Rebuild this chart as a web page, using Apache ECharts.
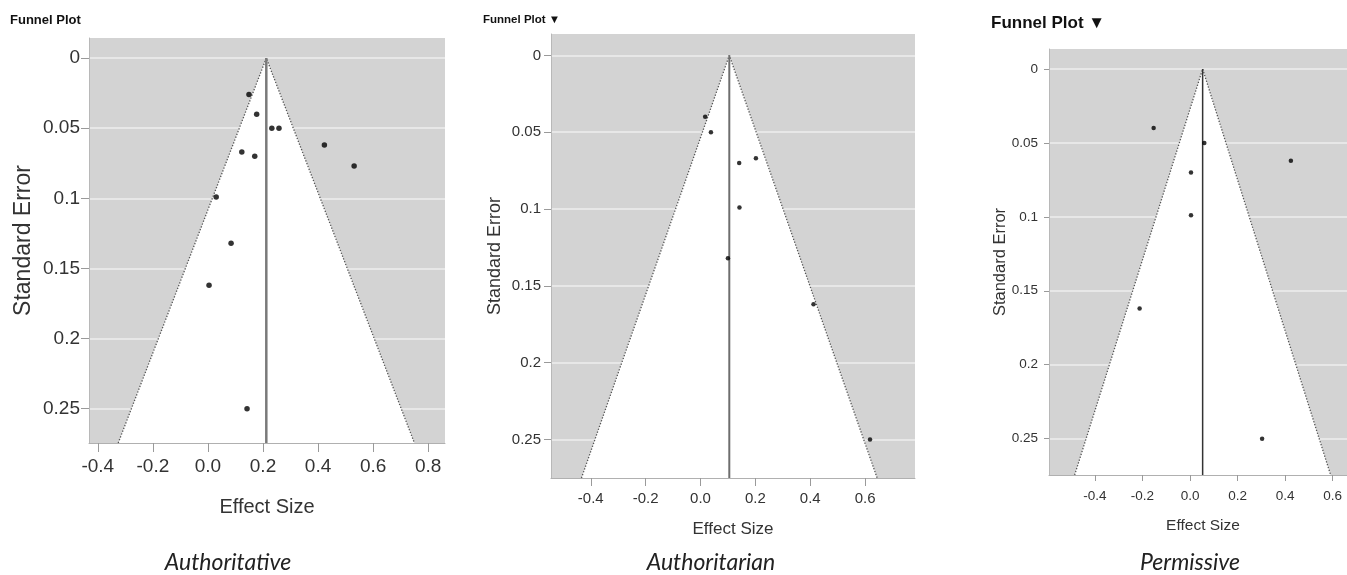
<!DOCTYPE html>
<html>
<head>
<meta charset="utf-8">
<title>Funnel Plots</title>
<script src="https://cdn.jsdelivr.net/npm/echarts@6/dist/echarts.min.js"></script>
<style>
html, body { margin: 0; padding: 0; background: #fff; }
#funnelCharts { width: 1347px; height: 575px; }
</style>
</head>
<body>
<div id="funnelCharts"></div>
<script>
//////////// 데이터 ////////////
// Authoritative
var authoritativeEffect = [0.149, 0.177, 0.232, 0.258, 0.423, 0.531, 0.123, 0.170, 0.030, 0.084, 0.004, 0.142];
var authoritativeSE     = [0.026, 0.040, 0.050, 0.050, 0.062, 0.077, 0.067, 0.070, 0.099, 0.132, 0.162, 0.250];
var authoritativeMean   = 0.212;

// Authoritarian
var authoritarianEffect = [0.017, 0.038, 0.141, 0.202, 0.142, 0.100, 0.412, 0.618];
var authoritarianSE     = [0.040, 0.050, 0.070, 0.067, 0.099, 0.132, 0.162, 0.250];
var authoritarianMean   = 0.105;

// Permissive
var permissiveEffect = [-0.153, 0.060, 0.004, 0.004, 0.424, -0.212, 0.303];
var permissiveSE     = [0.040, 0.050, 0.070, 0.099, 0.062, 0.162, 0.250];
var permissiveMean   = 0.053;

// tick labels
var seTicks = [0, 0.05, 0.1, 0.15, 0.2, 0.25];
var effectTicksWide = [-0.4, -0.2, 0.0, 0.2, 0.4, 0.6, 0.8];
var effectTicks = [-0.4, -0.2, 0.0, 0.2, 0.4, 0.6];

var captions = ['Authoritative', 'Authoritarian', 'Permissive'];

//////////// 패널 설정 ////////////
var panels = [
	{
		effect: authoritativeEffect, se: authoritativeSE, mean: authoritativeMean, xTicks: effectTicksWide,
		grid: {left: 89, top: 38, width: 356, height: 405},
		xMin: -0.432, xMax: 0.861, yMin: -0.0143, yMax: 0.2745,
		tickSize: 19, xNameSize: 20, yNameSize: 23,
		xNameGap: 54, yNameGap: 54, xMargin: 14, yMargin: 9, tickLen: 9,
		dot: 5.5, meanColor: '#7a7a7a', meanWidth: 2.5,
		title: 'Funnel Plot', titleSize: 13, titleLeft: 10, titleTop: 14,
		captionX: 228
	},
	{
		effect: authoritarianEffect, se: authoritarianSE, mean: authoritarianMean, xTicks: effectTicks,
		grid: {left: 551, top: 34, width: 364, height: 444},
		xMin: -0.545, xMax: 0.782, yMin: -0.0139, yMax: 0.275,
		tickSize: 15, xNameSize: 17, yNameSize: 18,
		xNameGap: 43, yNameGap: 47, xMargin: 13, yMargin: 10, tickLen: 8,
		dot: 4.5, meanColor: '#6e6e6e', meanWidth: 2,
		title: 'Funnel Plot \u25BC', titleSize: 11.5, titleLeft: 483, titleTop: 14,
		captionX: 711
	},
	{
		effect: permissiveEffect, se: permissiveSE, mean: permissiveMean, xTicks: effectTicks,
		grid: {left: 1049, top: 49, width: 308, height: 426},
		xMin: -0.593, xMax: 0.702, yMin: -0.0135, yMax: 0.2746,
		tickSize: 13.5, xNameSize: 15.5, yNameSize: 16.5,
		xNameGap: 43, yNameGap: 40, xMargin: 14, yMargin: 11, tickLen: 6,
		dot: 4.5, meanColor: '#333333', meanWidth: 1.5,
		title: 'Funnel Plot \u25BC', titleSize: 17, titleLeft: 991, titleTop: 15,
		captionX: 1190
	}
];

//////////// 차트 구성 ////////////
var chart = echarts.init(document.getElementById('funnelCharts'), null, {renderer: 'canvas'});

var option = {
	animation: false,
	backgroundColor: '#ffffff',
	textStyle: {fontFamily: 'Liberation Sans'},
	title: [],
	grid: [],
	xAxis: [],
	yAxis: [],
	series: [],
	graphic: []
};

panels.forEach(function(p, i) {
	buildPanel(p, i);
});

chart.setOption(option);

// 패널 하나 구성
function buildPanel(p, i) {
	// pseudo 95% limits at the bottom of the axis
	var seMax = p.yMax;
	var lo = p.mean - 1.96 * seMax;
	var hi = p.mean + 1.96 * seMax;

	option.title.push({
		text: p.title,
		left: p.titleLeft,
		top: p.titleTop,
		padding: 0,
		textStyle: {fontFamily: 'Liberation Sans', fontSize: p.titleSize, fontWeight: 'bold', color: '#111'}
	});

	option.grid.push({
		left: p.grid.left, top: p.grid.top, width: p.grid.width, height: p.grid.height,
		show: true, backgroundColor: '#d3d3d3', borderWidth: 0,
		outerBoundsMode: 'none', containLabel: false
	});

	option.xAxis.push({
		type: 'value', gridIndex: i,
		min: p.xMin, max: p.xMax,
		name: 'Effect Size', nameLocation: 'middle', nameGap: p.xNameGap, nameMoveOverlap: false,
		nameTextStyle: {fontFamily: 'Liberation Sans', fontSize: p.xNameSize, color: '#333'},
		axisLine: {show: true, onZero: false, lineStyle: {color: '#b0b0b0', width: 1}},
		axisTick: {show: true, length: p.tickLen, customValues: p.xTicks, lineStyle: {color: '#9a9a9a'}},
		axisLabel: {
			customValues: p.xTicks, margin: p.xMargin, color: '#333',
			fontFamily: 'Liberation Sans', fontSize: p.tickSize,
			formatter: function(v) { return v.toFixed(1); }
		},
		splitLine: {show: false}
	});

	option.yAxis.push({
		type: 'value', gridIndex: i, inverse: true,
		min: p.yMin, max: p.yMax,
		name: 'Standard Error', nameLocation: 'middle', nameGap: p.yNameGap, nameRotate: 90, nameMoveOverlap: false,
		nameTextStyle: {fontFamily: 'Liberation Sans', fontSize: p.yNameSize, color: '#333'},
		axisLine: {show: true, onZero: false, lineStyle: {color: '#b8b8b8', width: 1}},
		axisTick: {show: true, length: p.tickLen - 1, customValues: seTicks, lineStyle: {color: '#9a9a9a'}},
		axisLabel: {
			customValues: seTicks, margin: p.yMargin, color: '#333',
			fontFamily: 'Liberation Sans', fontSize: p.tickSize,
			formatter: function(v) { return String(v); }
		},
		splitLine: {show: true, lineStyle: {color: '#eeeeee', width: 1.5}}
	});

	// 흰색 깔때기 영역
	option.series.push({
		type: 'custom', xAxisIndex: i, yAxisIndex: i, silent: true, z: 1,
		data: [[p.mean, seMax]],
		renderItem: function(params, api) {
			var m = api.value(0), s = api.value(1);
			var pts = [
				api.coord([m - 1.96 * s, s]),
				api.coord([m, 0]),
				api.coord([m + 1.96 * s, s])
			];
			return {type: 'polygon', shape: {points: pts}, style: {fill: '#ffffff'}};
		}
	});

	// 점선 경계
	option.series.push({
		type: 'line', xAxisIndex: i, yAxisIndex: i, silent: true, z: 3,
		symbol: 'none',
		data: [[lo, seMax], [p.mean, 0], [hi, seMax]],
		lineStyle: {color: '#555', width: 1.3, type: [1.3, 1.7]}
	});

	// 평균선
	option.series.push({
		type: 'line', xAxisIndex: i, yAxisIndex: i, silent: true, z: 3,
		symbol: 'none',
		data: [[p.mean, 0], [p.mean, seMax]],
		lineStyle: {color: p.meanColor, width: p.meanWidth}
	});

	// 연구별 점
	var pts = [];
	for (var k = 0; k < p.effect.length; k++) {
		pts.push([p.effect[k], p.se[k]]);
	}
	option.series.push({
		type: 'scatter', xAxisIndex: i, yAxisIndex: i, z: 4,
		symbol: 'circle', symbolSize: p.dot,
		itemStyle: {color: '#000'},
		data: pts
	});

	// 캡션
	option.graphic.push({
		type: 'text', x: p.captionX, y: 563,
		style: {
			text: captions[i],
			font: 'italic 23px Lato',
			fill: '#222',
			align: 'center', verticalAlign: 'middle',
			textAlign: 'center', textVerticalAlign: 'middle'
		}
	});
}
</script>
</body>
</html>
